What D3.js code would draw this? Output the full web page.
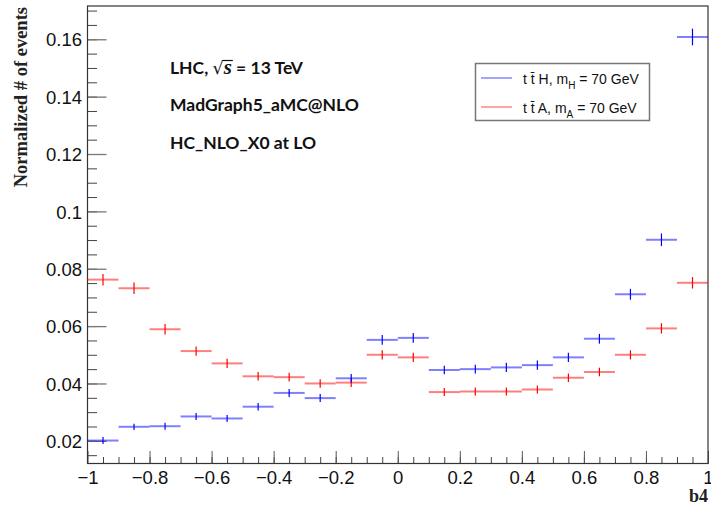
<!DOCTYPE html>
<html>
<head>
<meta charset="utf-8">
<script src="https://cdn.jsdelivr.net/npm/d3@7"></script>
<style>
  body { margin: 0; background: #fff; }
  svg { display: block; }
</style>
</head>
<body>
<div id="chart"></div>
<script>
// Binned b4 distribution, 20 bins from -1 to 1
var binLow = [-1, -0.9, -0.8, -0.7, -0.6, -0.5, -0.4, -0.3, -0.2, -0.1,
              0, 0.1, 0.2, 0.3, 0.4, 0.5, 0.6, 0.7, 0.8, 0.9];
var binWidth = 0.1;

// tt~H, mH = 70 GeV (blue)
var ttH = [0.0201, 0.0249, 0.0251, 0.0285, 0.0278, 0.0319, 0.0367, 0.0349, 0.0418, 0.0552,
           0.0559, 0.0447, 0.0450, 0.0456, 0.0464, 0.0491, 0.0556, 0.0711, 0.0901, 0.1608];
var ttHErr = [0.0012, 0.0011, 0.0012, 0.0012, 0.0012, 0.0013, 0.0014, 0.0014, 0.0015, 0.0017,
              0.0017, 0.0015, 0.0015, 0.0016, 0.0016, 0.0016, 0.0017, 0.0019, 0.0022, 0.0029];

// tt~A, mA = 70 GeV (red)
var ttA = [0.0762, 0.0732, 0.0589, 0.0513, 0.0470, 0.0425, 0.0422, 0.0400, 0.0403, 0.0500,
           0.0491, 0.0370, 0.0372, 0.0372, 0.0379, 0.0420, 0.0440, 0.0500, 0.0592, 0.0751];
var ttAErr = [0.0020, 0.0020, 0.0018, 0.0016, 0.0016, 0.0015, 0.0015, 0.0015, 0.0015, 0.0016,
              0.0016, 0.0014, 0.0014, 0.0014, 0.0014, 0.0015, 0.0015, 0.0016, 0.0018, 0.0020];

var xMajor = [-1, -0.8, -0.6, -0.4, -0.2, 0, 0.2, 0.4, 0.6, 0.8, 1];
var xMinor = d3.range(-0.95, 1, 0.05).map(function(d) { return +d.toFixed(2); });
var yMajor = [0.02, 0.04, 0.06, 0.08, 0.1, 0.12, 0.14, 0.16];
var yMinor = d3.range(0.015, 0.17, 0.005).map(function(d) { return +d.toFixed(3); });

var width = 711, height = 506;
var padL = 87.5, padR = 708, padT = 6, padB = 463.5;

var svg = d3.select("#chart").append("svg")
    .attr("width", width)
    .attr("height", height);

var x = d3.scaleLinear().domain([-1, 1]).range([padL, padR]);
var y = d3.scaleLinear().domain([0.0121, 0.1716]).range([padB, padT]);

var tickFont = "'Liberation Sans', Arial, sans-serif";

// x axis: minor ticks, then major ticks with labels
svg.append("g")
    .attr("transform", "translate(0," + padB + ")")
    .call(d3.axisBottom(x).tickValues(xMinor).tickSizeInner(-6.5).tickSizeOuter(0).tickFormat(""))
    .call(function(g) { g.select(".domain").remove(); g.selectAll("line").attr("stroke", "#444"); });

svg.append("g")
    .attr("transform", "translate(0," + padB + ")")
    .call(d3.axisBottom(x).tickValues(xMajor).tickSizeInner(-12.5).tickSizeOuter(0).tickPadding(7)
      .tickFormat(d3.format("~g")))
    .call(function(g) {
      g.select(".domain").remove();
      g.selectAll("line").attr("stroke", "#555");
      g.selectAll("text").style("font-family", tickFont).style("font-size", "18.5px").attr("fill", "#111");
    });

// y axis
svg.append("g")
    .attr("transform", "translate(" + padL + ",0)")
    .call(d3.axisLeft(y).tickValues(yMinor).tickSizeInner(-9.5).tickSizeOuter(0).tickFormat(""))
    .call(function(g) { g.select(".domain").remove(); g.selectAll("line").attr("stroke", "#444"); });

svg.append("g")
    .attr("transform", "translate(" + padL + ",0)")
    .call(d3.axisLeft(y).tickValues(yMajor).tickSizeInner(-19).tickSizeOuter(0).tickPadding(5.5)
      .tickFormat(d3.format("~g")))
    .call(function(g) {
      g.select(".domain").remove();
      g.selectAll("line").attr("stroke", "#777").attr("stroke-width", 1.3);
      g.selectAll("text").style("font-family", tickFont).style("font-size", "18.5px").attr("fill", "#111")
        .attr("dy", "0.36em");
    });

// frame
svg.append("rect")
    .attr("x", padL).attr("y", padT)
    .attr("width", padR - padL).attr("height", padB - padT)
    .attr("fill", "none").attr("stroke", "#333").attr("stroke-width", 1.2);

// histograms with error bars
function drawSeries(vals, errs, color) {
  var g = svg.append("g");
  var pts = vals.map(function(v, i) { return { lo: binLow[i], v: v, e: errs[i] }; });
  g.selectAll("line.h").data(pts).enter().append("line")
      .attr("class", "h")
      .attr("x1", function(d) { return x(d.lo); })
      .attr("x2", function(d) { return x(d.lo + binWidth); })
      .attr("y1", function(d) { return y(d.v); })
      .attr("y2", function(d) { return y(d.v); })
      .attr("stroke", color).attr("stroke-width", 2).attr("stroke-opacity", 0.5);
  g.selectAll("line.v").data(pts).enter().append("line")
      .attr("class", "v")
      .attr("x1", function(d) { return x(d.lo + binWidth / 2); })
      .attr("x2", function(d) { return x(d.lo + binWidth / 2); })
      .attr("y1", function(d) { return y(d.v - d.e); })
      .attr("y2", function(d) { return y(d.v + d.e); })
      .attr("stroke", color).attr("stroke-width", 1.2);
}
drawSeries(ttA, ttAErr, "#ff0000");
drawSeries(ttH, ttHErr, "#0000ff");

// axis titles
svg.append("text")
    .attr("transform", "translate(27,7) rotate(-90)")
    .attr("text-anchor", "end")
    .style("font-family", "'Liberation Serif', 'Times New Roman', serif")
    .style("font-weight", "bold")
    .style("font-size", "18.5px")
    .attr("fill", "#222")
    .text("Normalized # of events");

svg.append("text")
    .attr("x", 708).attr("y", 502)
    .attr("text-anchor", "end")
    .style("font-family", "'Liberation Serif', 'Times New Roman', serif")
    .style("font-weight", "bold")
    .style("font-size", "18px")
    .attr("fill", "#222")
    .text("b4");

// annotations
var noteFont = "Lato, 'Open Sans', sans-serif";
var l1 = svg.append("text")
    .attr("x", 170).attr("y", 74)
    .style("font-family", noteFont).style("font-weight", "bold").style("font-size", "17.5px")
    .attr("fill", "#111");
l1.append("tspan").text("LHC, ");
l1.append("tspan").style("font-family", "'DejaVu Sans', sans-serif").style("font-weight", "normal").text("\u221A");
l1.append("tspan")
    .style("font-family", "'Liberation Serif', serif").style("font-style", "italic").style("font-size", "21px")
    .text("s");
l1.append("tspan").text(" = 13 TeV");
// overline for the radical
var node = l1.node();
var nRad = "LHC, ".length;
var rb = node.getExtentOfChar(nRad);
var sb = node.getExtentOfChar(nRad + 1);
svg.append("line")
    .attr("x1", rb.x + rb.width - 1).attr("x2", sb.x + sb.width + 1)
    .attr("y1", rb.y + 2.5).attr("y2", rb.y + 2.5)
    .attr("stroke", "#111").attr("stroke-width", 1.2);

svg.append("text")
    .attr("x", 170).attr("y", 111)
    .style("font-family", noteFont).style("font-weight", "bold").style("font-size", "17.5px")
    .attr("fill", "#111")
    .text("MadGraph5_aMC@NLO");

svg.append("text")
    .attr("x", 170).attr("y", 149)
    .style("font-family", noteFont).style("font-weight", "bold").style("font-size", "17.5px")
    .attr("fill", "#111")
    .text("HC_NLO_X0 at LO");

// legend
var legend = svg.append("g");
legend.append("rect")
    .attr("x", 475.5).attr("y", 63.5).attr("width", 174).attr("height", 57)
    .attr("fill", "#fff").attr("stroke", "#777").attr("stroke-width", 1.5);

var legendItems = [
  { color: "#0000ff", boson: "H", sub: "H", yy: 78 },
  { color: "#ff0000", boson: "A", sub: "A", yy: 107 }
];
legendItems.forEach(function(it) {
  legend.append("line")
      .attr("x1", 481).attr("x2", 512).attr("y1", it.yy).attr("y2", it.yy)
      .attr("stroke", it.color).attr("stroke-opacity", 0.6).attr("stroke-width", 1.2);
  var t = legend.append("text")
      .attr("x", 523).attr("y", it.yy + 5.5)
      .style("font-family", tickFont).style("font-size", "14px").attr("fill", "#111");
  t.append("tspan").text("t t\u0304 " + it.boson + ", m");
  t.append("tspan").attr("dy", 5).style("font-size", "10px").text(it.sub);
  t.append("tspan").attr("dy", -5).text(" = 70 GeV");
});
</script>
</body>
</html>
